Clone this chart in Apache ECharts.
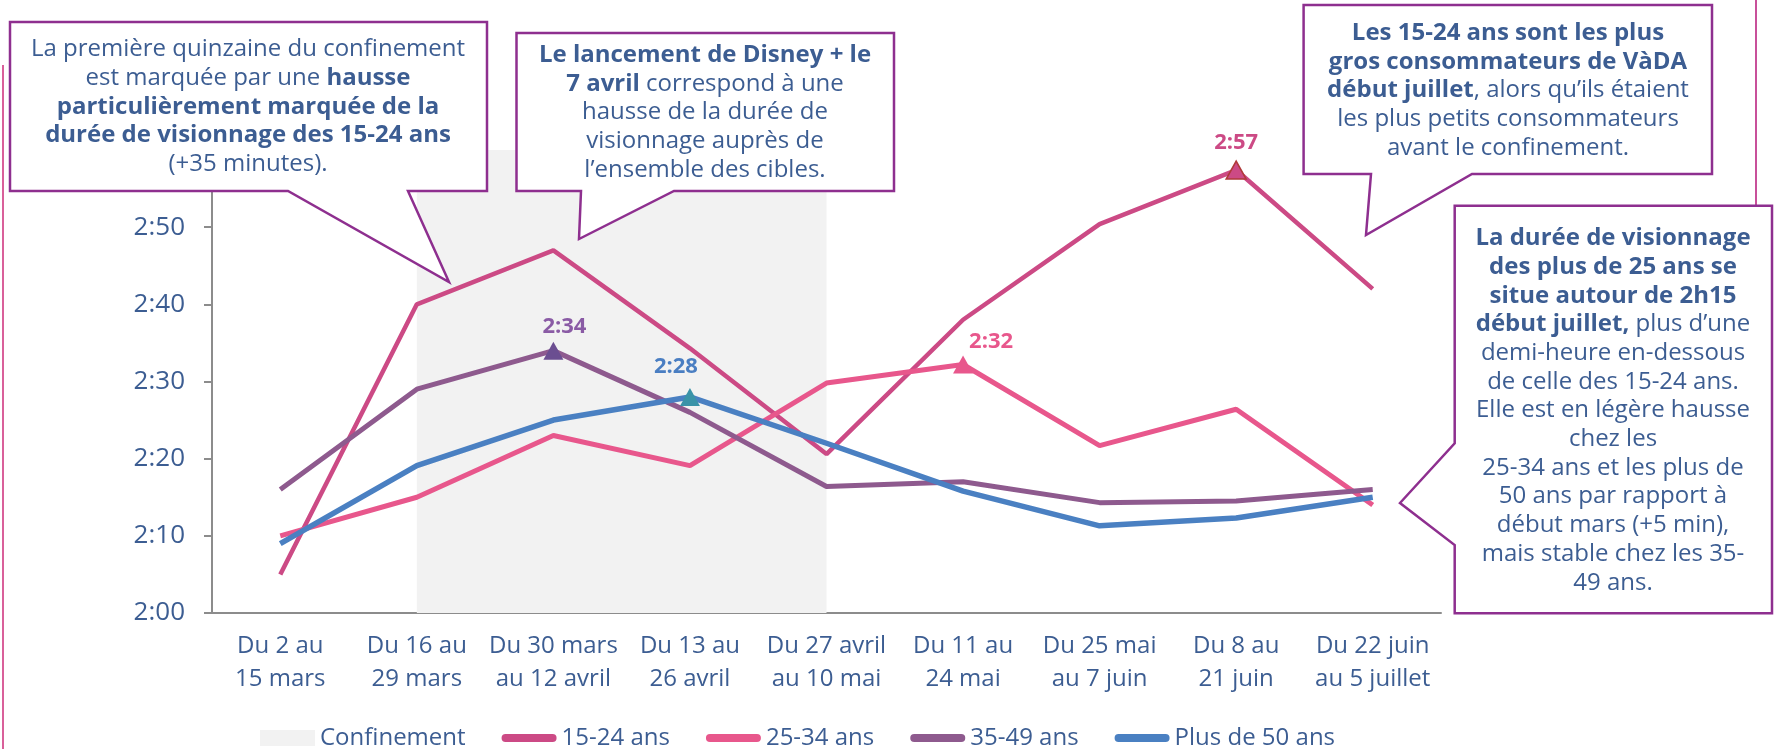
<!DOCTYPE html>
<html>
<head>
<meta charset="UTF-8">
<title>Durée de visionnage VàDA</title>
<script src="https://cdn.jsdelivr.net/npm/echarts@6/dist/echarts.min.js"></script>
<style>
html,body{margin:0;padding:0;background:#fff;}
#main{width:1781px;height:749px;}
</style>
</head>
<body>
<div id="main"></div>
<script>
// périodes (axe X)
var periodes = ['Du 2 au\n15 mars', 'Du 16 au\n29 mars', 'Du 30 mars\nau 12 avril', 'Du 13 au\n26 avril',
    'Du 27 avril\nau 10 mai', 'Du 11 au\n24 mai', 'Du 25 mai\nau 7 juin', 'Du 8 au\n21 juin', 'Du 22 juin\nau 5 juillet'];
// durée de visionnage, en minutes (2:00 = 120)
var ans1524 = [125, 160, 167, 154.3, 140.6, 158, 170.4, 177.4, 162];
var ans2534 = [130, 135, 143, 139.1, 149.8, 152.2, 141.7, 146.4, 134];
var ans3549 = [136, 149, 154, 146, 136.4, 137, 134.3, 134.5, 136];
var plus50 = [129, 139.1, 145, 148, 142, 135.8, 131.3, 132.3, 135];
// axe Y : 2:00 -> 3:00, pas de 10 min
var yMin = 120, yMax = 180, yPas = 10;
// confinement : de la 2e à la 5e période
var confDebut = 1, confFin = 4;

var ff = '"Open Sans", sans-serif';
var bleuTexte = '#3c5d92';
var violet = '#8e2f8f';

function hmm(v) {
    v = Math.round(v);
    var m = v % 60;
    return Math.floor(v / 60) + ':' + (m < 10 ? '0' + m : m);
}

// une courbe, avec un triangle + étiquette sur un point
function courbe(nom, valeurs, couleur, epaisseur, idx, triCouleur, lblCouleur, decal, bord) {
    return {
        name: nom,
        type: 'line',
        symbol: 'none',
        showSymbol: true,
        lineStyle: {color: couleur, width: epaisseur},
        itemStyle: {color: couleur},
        emphasis: {disabled: true},
        data: valeurs.map(function (v, i) {
            if (i !== idx) return v;
            return {
                value: v,
                symbol: 'triangle',
                symbolSize: [20, 18],
                itemStyle: {color: triCouleur, borderColor: bord || triCouleur, borderWidth: bord ? 1.5 : 0},
                label: {
                    show: true, position: 'top', distance: 4, offset: decal,
                    formatter: function (p) { return hmm(p.value); },
                    color: lblCouleur, fontWeight: 'bold', fontSize: 22, fontFamily: ff
                }
            };
        })
    };
}

var lineIcon = 'path://M4,0H51A4,4 0 0 1 51,8H4A4,4 0 0 1 4,0Z';

var rich = {
    n: {fontSize: 24, lineHeight: 28.7, fontFamily: ff, fill: bleuTexte, color: bleuTexte, align: 'center'},
    b: {fontSize: 24, lineHeight: 28.7, fontFamily: ff, fill: bleuTexte, color: bleuTexte, fontWeight: 'bold', align: 'center'}
};

function bulle(points) {
    return {type: 'polygon', z: 100, shape: {points: points}, style: {fill: '#fff', stroke: violet, lineWidth: 2.5}};
}
function texte(x, y, t) {
    return {type: 'text', z: 101, x: x, y: y, style: {text: t, rich: rich, align: 'center', verticalAlign: 'middle',
        fontSize: 24, lineHeight: 28.7, fontFamily: ff, fill: bleuTexte}};
}

var myChart = echarts.init(document.getElementById('main'));

var option = {
    animation: false,
    grid: {left: 212, right: 340, top: 150, bottom: 136},
    xAxis: {
        type: 'category',
        data: periodes,
        boundaryGap: true,
        axisLine: {lineStyle: {color: '#8c8c8c', width: 2}},
        axisTick: {length: 8, lineStyle: {color: '#8c8c8c', width: 2}},
        axisLabel: {color: bleuTexte, fontSize: 24, fontFamily: ff, lineHeight: 33, margin: 17, interval: 0}
    },
    yAxis: {
        type: 'value',
        min: yMin, max: yMax, interval: yPas,
        axisLine: {show: true, lineStyle: {color: '#8c8c8c', width: 2}},
        axisTick: {show: true, length: 8, lineStyle: {color: '#8c8c8c', width: 2}},
        splitLine: {show: false},
        axisLabel: {
            color: bleuTexte, fontSize: 26, fontFamily: ff, margin: 27,
            formatter: function (v) { return v >= yMax ? '' : hmm(v); }
        }
    },
    legend: {
        left: 255, top: 721,
        itemWidth: 55, itemHeight: 16, itemGap: 36,
        textStyle: {color: bleuTexte, fontSize: 24, fontFamily: ff},
        data: [
            {name: 'Confinement', icon: 'rect'},
            {name: '15-24 ans', icon: lineIcon},
            {name: '25-34 ans', icon: lineIcon},
            {name: '35-49 ans', icon: lineIcon},
            {name: 'Plus de 50 ans', icon: lineIcon}
        ]
    },
    series: [
        {
            name: 'Confinement', type: 'line', data: [],
            itemStyle: {color: '#f2f2f2'}, lineStyle: {color: '#f2f2f2'},
            markArea: {
                silent: true,
                itemStyle: {color: '#f2f2f2'},
                data: [[{xAxis: periodes[confDebut]}, {xAxis: periodes[confFin]}]]
            }
        },
        courbe('15-24 ans', ans1524, '#cc4a85', 4.5, 7, '#cc4a85', '#cc4a85', [0, -3], '#b03a3a'),
        courbe('25-34 ans', ans2534, '#e8578c', 5, 5, '#e8578c', '#e8578c', [28, 1]),
        courbe('35-49 ans', ans3549, '#8e5a8e', 5, 2, '#6b4e91', '#8a5ba5', [11, 0]),
        courbe('Plus de 50 ans', plus50, '#4a80c2', 5.5, 3, '#3a93a8', '#4a7ec2', [-14, -6])
    ],
    graphic: [
        {type: 'line', z: 100, shape: {x1: 3, y1: 65, x2: 3, y2: 749}, style: {stroke: '#d9609a', lineWidth: 2}},
        {type: 'line', z: 100, shape: {x1: 1756, y1: 0, x2: 1756, y2: 206}, style: {stroke: '#c8509a', lineWidth: 2}},
        bulle([[10, 22], [487, 22], [487, 191], [408, 191], [449, 282], [288, 191], [10, 191]]),
        texte(248, 106.7, '{n|La première quinzaine du confinement}\n{n|est marquée par une }{b|hausse}\n' +
            '{b|particulièrement marquée de la}\n{b|durée de visionnage des 15-24 ans}\n{n|(+35 minutes).}'),
        bulle([[516.5, 33], [894, 33], [894, 191], [674, 191], [579, 239], [581, 191], [516.5, 191]]),
        texte(705, 112.5, '{b|Le lancement de Disney + le}\n{b|7 avril}{n| correspond à une}\n' +
            '{n|hausse de la durée de}\n{n|visionnage auprès de}\n{n|l’ensemble des cibles.}'),
        bulle([[1303.6, 5], [1712, 5], [1712, 174], [1472, 174], [1366, 235], [1371, 174], [1303.6, 174]]),
        texte(1508, 90.5, '{b|Les 15-24 ans sont les plus}\n{b|gros consommateurs de VàDA}\n' +
            '{b|début juillet}{n|, alors qu’ils étaient}\n{n|les plus petits consommateurs}\n{n|avant le confinement.}'),
        bulle([[1454.7, 205.7], [1772, 205.7], [1772, 613.3], [1454.7, 613.3], [1454.7, 545], [1400, 503], [1454.7, 443.3]]),
        texte(1613, 410.5, '{b|La durée de visionnage}\n{b|des plus de 25 ans se}\n{b|situe autour de 2h15}\n' +
            '{b|début juillet,}{n| plus d’une}\n{n|demi-heure en-dessous}\n{n|de celle des 15-24 ans.}\n' +
            '{n|Elle est en légère hausse}\n{n|chez les}\n{n|25-34 ans et les plus de}\n{n|50 ans par rapport à}\n' +
            '{n|début mars (+5 min),}\n{n|mais stable chez les 35-}\n{n|49 ans.}')
    ]
};

myChart.setOption(option);
</script>
</body>
</html>
